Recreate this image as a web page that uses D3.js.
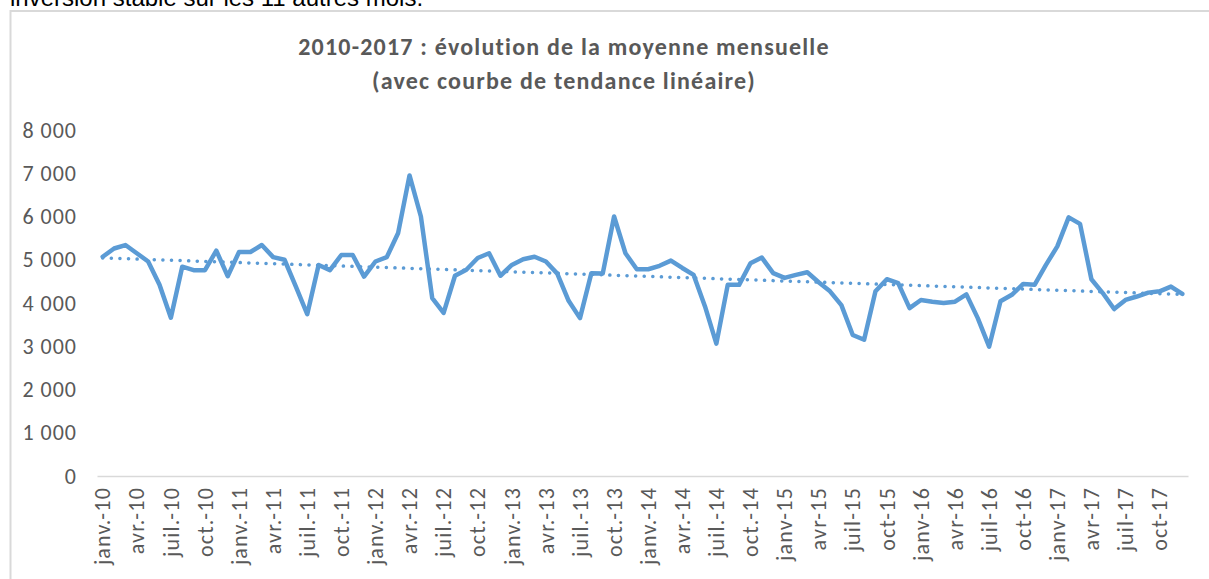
<!DOCTYPE html>
<html>
<head>
<meta charset="utf-8">
<script src="https://cdn.jsdelivr.net/npm/d3@7"></script>
<style>
  html, body { margin: 0; padding: 0; background: #fff; overflow: hidden; }
  svg { display: block; }
</style>
</head>
<body>
<div id="chart"></div>
<script>
// monthly averages, janv. 2010 -> déc. 2017
const years = [10, 11, 12, 13, 14, 15, 16, 17];
const monthNamesDot = ["janv.", "févr.", "mars", "avr.", "mai", "juin", "juil.", "août", "sept.", "oct.", "nov.", "déc."];
const monthNamesNoDot = ["janv", "févr", "mars", "avr", "mai", "juin", "juil", "août", "sept", "oct", "nov", "déc"];

const values = [
    5070, 5260, 5340, 5150, 4960, 4420, 3660, 4840, 4760, 4760, 5210, 4620,
    5180, 5180, 5340, 5060, 5000, 4380, 3740, 4880, 4760, 5110, 5110, 4610,
    4960, 5060, 5620, 6950, 6000, 4110, 3770, 4630, 4770, 5040, 5150, 4630,
    4880, 5010, 5070, 4960, 4680, 4050, 3650, 4690, 4680, 6000, 5150, 4780,
    4780, 4860, 4980, 4810, 4650, 3920, 3060, 4420, 4420, 4920, 5050, 4690,
    4580, 4650, 4710, 4480, 4270, 3950, 3260, 3150, 4270, 4550, 4460, 3880,
    4070, 4030, 4000, 4030, 4200, 3650, 2990, 4040, 4190, 4440, 4420, 4880,
    5310, 5980, 5830, 4550, 4230, 3860, 4070, 4150, 4240, 4270, 4380, 4210
];

const yTicks = [0, 1000, 2000, 3000, 4000, 5000, 6000, 7000, 8000];
const titleLines = ["2010-2017 : évolution de la moyenne mensuelle", "(avec courbe de tendance linéaire)"];
const topText = "inversion stable sur les 11 autres mois.";

const categories = [];
years.forEach(y => {
    for (let m = 0; m < 12; m++) {
        // from 2015 on the labels lose their dot
        let name = y < 15 ? monthNamesDot[m] : monthNamesNoDot[m];
        categories.push(`${name}-${y}`);
    }
});

const width = 1209;
const height = 579;
const font = "Carlito, Calibri, Lato, 'Open Sans', sans-serif";
const textGrey = "#595959";
const lineBlue = "#5b9bd5";

const svg = d3.select("#chart")
    .append("svg")
    .attr("width", width)
    .attr("height", height)
    .attr("viewBox", [0, 0, width, height]);

// text above the chart box, mostly cut off
svg.append("text")
    .attr("x", 10)
    .attr("y", 6)
    .attr("font-family", "'Liberation Sans', Arial, sans-serif")
    .attr("font-size", 24)
    .attr("fill", "#000")
    .text(topText);

// chart frame (runs out of the picture on the right and bottom)
svg.append("rect")
    .attr("x", 10.5)
    .attr("y", 11)
    .attr("width", width + 20)
    .attr("height", height + 20)
    .attr("fill", "#fff")
    .attr("stroke", "#d9d9d9")
    .attr("stroke-width", 2);

const margin = { left: 97, right: 21, top: 130, bottom: 103 };

const x = d3.scaleBand()
    .domain(categories)
    .range([margin.left, width - margin.right]);

const y = d3.scaleLinear()
    .domain([0, 8000])
    .range([height - margin.bottom, margin.top]);

const cx = d => x(d) + x.bandwidth() / 2;

// title
svg.append("g")
    .selectAll("text")
    .data(titleLines)
    .join("text")
    .attr("x", 564)
    .attr("y", (d, i) => 55 + i * 34)
    .attr("text-anchor", "middle")
    .attr("font-family", font)
    .attr("font-weight", "bold")
    .attr("font-size", 24)
    .attr("letter-spacing", "1.2px")
    .attr("fill", textGrey)
    .text(d => d);

// y axis (no line, no ticks)
const yAxis = svg.append("g")
    .attr("transform", `translate(${margin.left - 20},0)`)
    .call(d3.axisLeft(y).tickValues(yTicks).tickSize(0).tickPadding(0).tickFormat(v => d3.format(",")(v).replace(/,/g, " ")));
yAxis.select(".domain").remove();
yAxis.selectAll("text")
    .attr("font-family", font)
    .attr("font-size", 22)
    .attr("letter-spacing", "1px")
    .attr("fill", textGrey);

// x axis: line plus every third month label, rotated
const xAxis = svg.append("g")
    .attr("transform", `translate(0,${y(0)})`)
    .call(d3.axisBottom(x).tickValues(categories.filter((d, i) => i % 3 === 0)).tickSize(0));
xAxis.select(".domain")
    .attr("stroke", "#d9d9d9")
    .attr("stroke-width", 1.5);
xAxis.selectAll("text")
    .attr("font-family", font)
    .attr("font-size", 22)
    .attr("letter-spacing", "1.2px")
    .attr("fill", textGrey)
    .attr("transform", "rotate(-90)")
    .attr("text-anchor", "end")
    .attr("x", -11)
    .attr("y", 0)
    .attr("dy", "0.35em");

// linear trend (least squares on the monthly values)
const n = values.length;
const meanI = d3.mean(values, (d, i) => i);
const meanV = d3.mean(values);
let sxy = 0, sxx = 0;
values.forEach((v, i) => {
    sxy += (i - meanI) * (v - meanV);
    sxx += (i - meanI) * (i - meanI);
});
const slope = sxy / sxx;
const intercept = meanV - slope * meanI;

svg.append("line")
    .attr("x1", cx(categories[0]))
    .attr("y1", y(intercept))
    .attr("x2", cx(categories[n - 1]))
    .attr("y2", y(intercept + slope * (n - 1)))
    .attr("stroke", lineBlue)
    .attr("stroke-width", 3.5)
    .attr("stroke-linecap", "round")
    .attr("stroke-dasharray", "0.1 8.5");

// monthly line
const line = d3.line()
    .x((d, i) => cx(categories[i]))
    .y(d => y(d));

svg.append("path")
    .datum(values)
    .attr("d", line)
    .attr("fill", "none")
    .attr("stroke", lineBlue)
    .attr("stroke-width", 4.5)
    .attr("stroke-linejoin", "round")
    .attr("stroke-linecap", "round");
</script>
</body>
</html>
